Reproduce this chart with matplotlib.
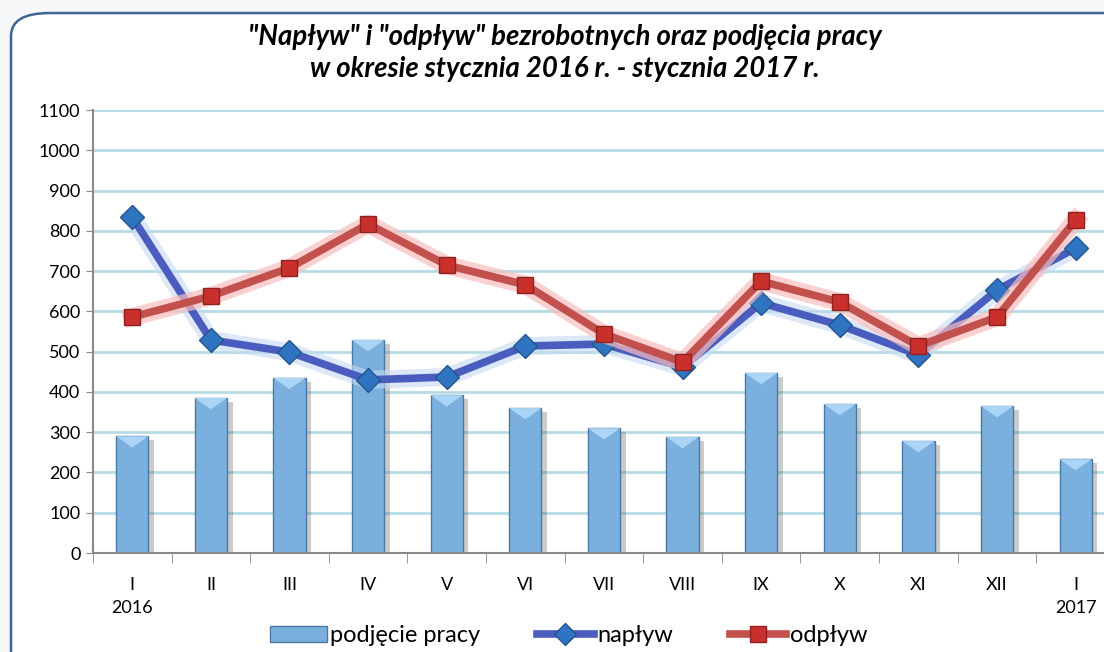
import matplotlib
matplotlib.use("Agg")
import matplotlib.pyplot as plt
import matplotlib.patheffects as pe
from matplotlib.patches import FancyBboxPatch
from matplotlib.lines import Line2D
from matplotlib.patches import Patch
import numpy as np

# data
months = ['I', 'II', 'III', 'IV', 'V', 'VI', 'VII', 'VIII', 'IX', 'X', 'XI', 'XII', 'I']
years = ['2016', '', '', '', '', '', '', '', '', '', '', '', '2017']
podjecie = [290, 385, 435, 529, 392, 360, 310, 288, 447, 370, 278, 365, 233]
naplyw = [834, 529, 499, 430, 437, 514, 519, 462, 621, 566, 492, 653, 757]
odplyw = [586, 638, 708, 817, 715, 666, 544, 474, 675, 623, 514, 586, 827]

plt.rcParams['font.family'] = ['Lato', 'DejaVu Sans']

fig = plt.figure(figsize=(11.04, 6.52), dpi=100, facecolor='#F5F7F9')

# rounded frame
frame = FancyBboxPatch((0.010, -0.05), 1.05, 1.03, boxstyle="round,pad=0,rounding_size=0.035",
                       transform=fig.transFigure, facecolor='white', edgecolor='#3F6596',
                       linewidth=1.8, zorder=-10)
fig.add_artist(frame)

ax = fig.add_axes([0.0842, 0.1518, 0.9257, 0.6794])
ax.set_facecolor('none')

x = np.arange(len(months))

# grid
for v in range(100, 1101, 100):
    ax.axhline(v, color='#B4DCE6', lw=2, zorder=0)

# bars with soft shadow
shadow = [pe.SimplePatchShadow(offset=(4, -3), shadow_rgbFace='#555555', alpha=0.3), pe.Normal()]
bars = ax.bar(x, podjecie, width=0.41, color='#7BB0DE', edgecolor='#4A78A4', linewidth=1.0, zorder=2)
for b in bars:
    b.set_path_effects(shadow)
    # lighter top bevel
    ax.fill([b.get_x(), b.get_x() + b.get_width(), b.get_x() + b.get_width() * 0.5],
            [b.get_height(), b.get_height(), b.get_height() - 28],
            color='#AAD5F6', zorder=3, lw=0)

# lines with glow
blue_glow = [pe.Stroke(linewidth=13, foreground='#C6DAF2', alpha=0.6), pe.Normal()]
red_glow = [pe.Stroke(linewidth=13, foreground='#F9BDBD', alpha=0.7), pe.Normal()]
ax.plot(x, naplyw, color='#4A5DBE', lw=5.5, zorder=4, path_effects=blue_glow)
ax.plot(x, naplyw, ls='none', marker='D', markersize=12, markerfacecolor='#2F74C0',
        markeredgecolor='#24558C', markeredgewidth=1, zorder=5)
ax.plot(x, odplyw, color='#C2504D', lw=5.5, zorder=6, path_effects=red_glow)
ax.plot(x, odplyw, ls='none', marker='s', markersize=12, markerfacecolor='#C9302C',
        markeredgecolor='#8E2220', markeredgewidth=1, zorder=7)

ax.set_xlim(-0.5, len(months) - 0.5)
ax.set_ylim(0, 1100)
ax.set_yticks(range(0, 1101, 100))
ax.tick_params(axis='y', labelsize=13, length=5, color='#888888', pad=4)
ax.set_xticks(x)
ax.set_xticklabels([m + '\n' + y for m, y in zip(months, years)], fontsize=13, linespacing=1.55)
ax.tick_params(axis='x', length=0, pad=17)
# category boundary ticks
ax.set_xticks(np.arange(-0.5, len(months), 1), minor=True)
ax.tick_params(axis='x', which='minor', length=7, color='#888888')

for s in ['top', 'right']:
    ax.spines[s].set_visible(False)
for s in ['left', 'bottom']:
    ax.spines[s].set_color('#888888')
    ax.spines[s].set_linewidth(1.5)

fig.text(0.512, 0.919, '"Napływ" i "odpływ" bezrobotnych oraz podjęcia pracy\nw okresie stycznia 2016 r. - stycznia 2017 r.',
         ha='center', va='center', fontsize=19.8, fontweight='bold', fontstyle='italic', linespacing=1.3)

handles = [Patch(facecolor='#7BB0DE', edgecolor='#4A78A4'),
           Line2D([], [], color='#4A5DBE', lw=5.5, marker='D', markersize=11,
                  markerfacecolor='#2F74C0', markeredgecolor='#24558C'),
           Line2D([], [], color='#C2504D', lw=5.5, marker='s', markersize=11,
                  markerfacecolor='#C9302C', markeredgecolor='#8E2220')]
fig.legend(handles, ['podjęcie pracy', 'napływ', 'odpływ'], loc='center', bbox_to_anchor=(0.515, 0.025),
           ncol=3, frameon=False, fontsize=17, handlelength=2.4, handletextpad=0.15, columnspacing=2.4)

fig.savefig('out.png', dpi=100, facecolor=fig.get_facecolor())
